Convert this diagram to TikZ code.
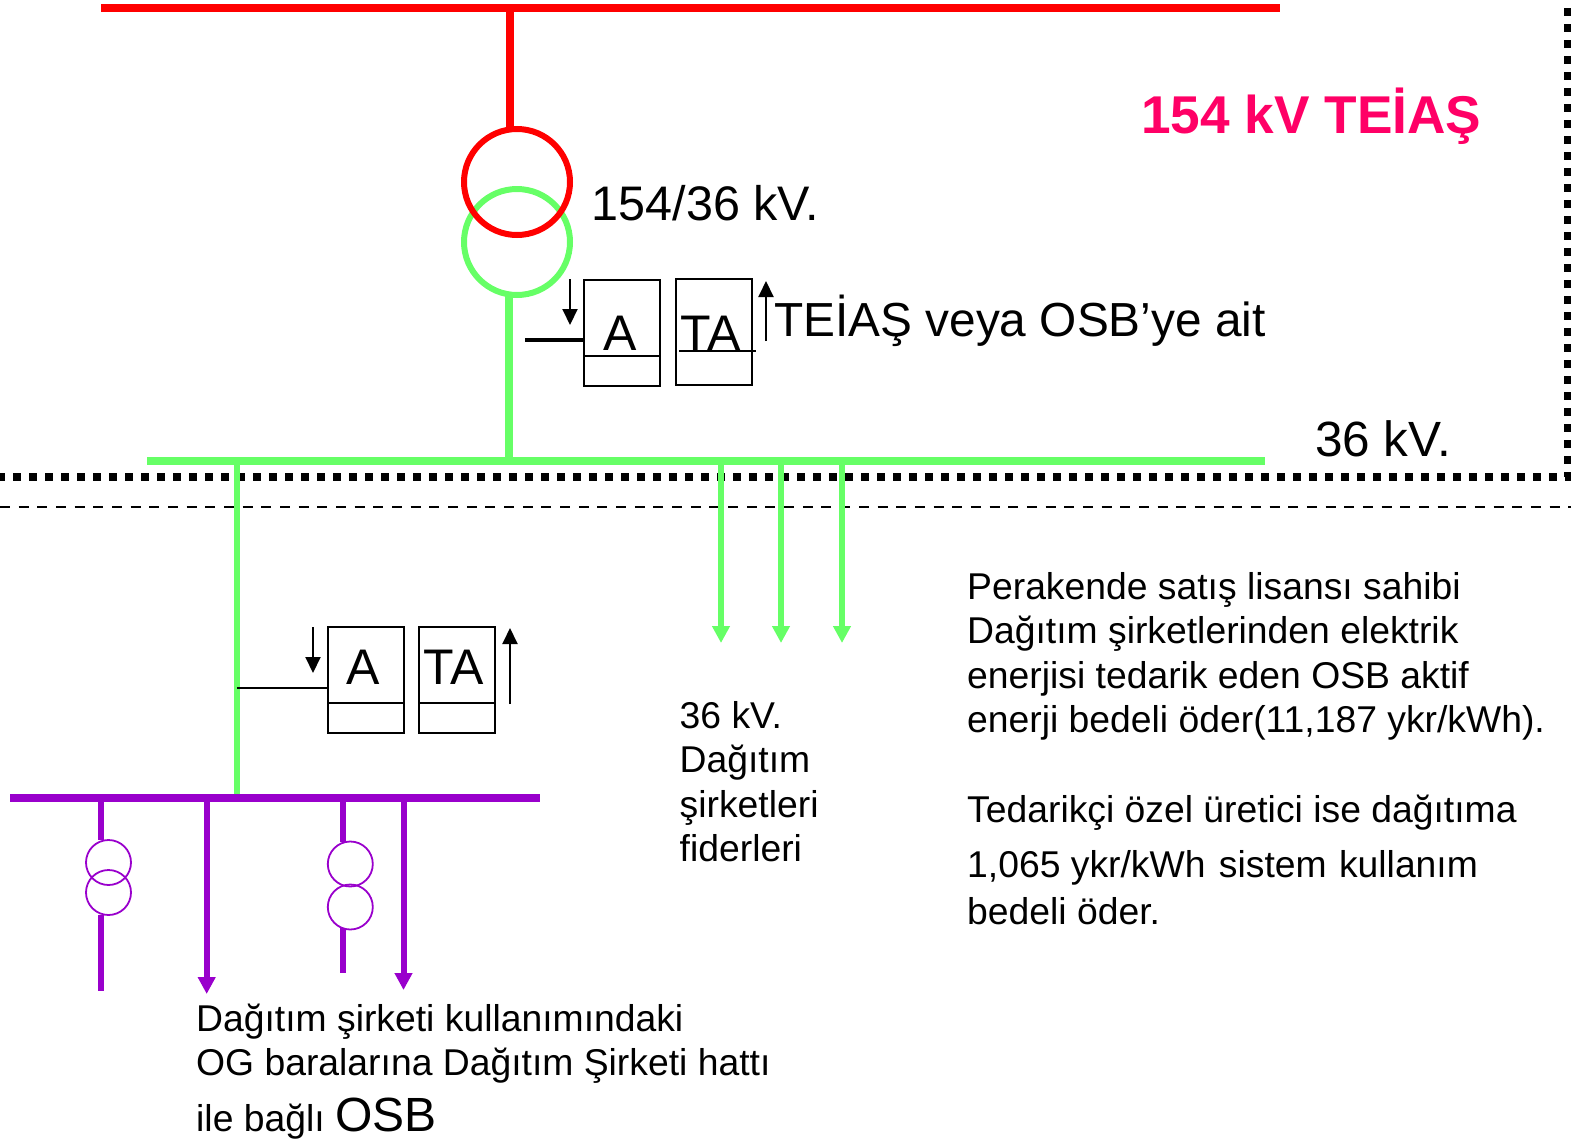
\documentclass[tikz,border=0pt]{standalone}
\usepackage{fontspec}
\setmainfont{Liberation Sans}
\usetikzlibrary{arrows.meta}
\definecolor{busred}{RGB}{255,0,0}
\definecolor{busgreen}{RGB}{102,255,102}
\definecolor{buspurple}{RGB}{153,0,204}
\definecolor{titlepink}{RGB}{255,0,102}
\tikzset{
  x=1pt,y=-1pt,
  bigtext/.style={inner sep=0pt,anchor=base west,font=\fontsize{48.5}{48.5}\selectfont},
  smalltext/.style={inner sep=0pt,anchor=base west,font=\fontsize{37.3}{44.5}\selectfont,align=left},
  boxtext/.style={inner sep=0pt,anchor=base,font=\fontsize{50}{50}\selectfont},
  meter/.style={draw=black,line width=2pt,inner sep=0pt,minimum width=76pt,minimum height=106pt},
  trafo/.style={circle,draw,inner sep=0pt,minimum size=#1},
  feedarrow/.style={line width=6pt,-{Triangle[length=17pt,width=17pt]}},
  blackarrow/.style={line width=2pt,-{Triangle[length=16pt,width=15pt]}},
  heavydots/.style={line width=7.8pt,dash pattern=on 8pt off 8pt},
}
\begin{document}
\begin{tikzpicture}
\useasboundingbox (0,0) rectangle (1571,1138);
% boundary lines
\coordinate (bl) at (-2.7,476.7); \coordinate (br) at (1571,476.7);
\coordinate (rt) at (1567.7,7.7); \coordinate (rb) at (1567.7,477);
\coordinate (dl) at (0,507); \coordinate (dr) at (1571,507);
\draw[heavydots] (bl) -- (br);
\draw[heavydots] (rt) -- (rb);
\draw[line width=1.6pt,dash pattern=on 10pt off 8.67pt] (dl) -- (dr);
% buses
\coordinate (redL) at (101,8); \coordinate (redR) at (1280,8);
\coordinate (redT) at (510,8); \coordinate (redB) at (510,128);
\coordinate (grnL) at (147,461); \coordinate (grnR) at (1265,461);
\coordinate (grnT) at (509,294); \coordinate (grnB) at (509,461);
\coordinate (f1) at (721,461); \coordinate (f1e) at (721,643);
\coordinate (f2) at (781,461); \coordinate (f2e) at (781,643);
\coordinate (f3) at (842,461); \coordinate (f3e) at (842,643);
\coordinate (lg) at (237,461); \coordinate (lge) at (237,797);
\coordinate (purL) at (10,798); \coordinate (purR) at (540,798);
\draw[busgreen,line width=8pt] (grnT) -- (grnB);
\draw[busgreen,feedarrow] (f1) -- (f1e);
\draw[busgreen,feedarrow] (f2) -- (f2e);
\draw[busgreen,feedarrow] (f3) -- (f3e);
\draw[busgreen,line width=6pt] (lg) -- (lge);
\draw[busgreen,line width=8pt] (grnL) -- (grnR);
\draw[busred,line width=8pt] (redL) -- (redR);
\draw[busred,line width=8pt] (redT) -- (redB);
% main transformer
\node[trafo=106pt,draw=busgreen,line width=6pt] (tg) at (517,242) {};
\node[trafo=106pt,draw=busred,line width=6pt] (tr) at (517,182) {};
% upper metering
\node[meter] (A1) at (622,332.5) {};
\node[meter] (TA1) at (713.5,332) {};
\coordinate (A1dL) at (584,355.5); \coordinate (A1dR) at (660,355.5);
\coordinate (T1uL) at (679,351); \coordinate (T1uR) at (756,351);
\draw[line width=2pt] (A1dL) -- (A1dR);
\node[boxtext] (A1t) at (620,350) {A};
\node[boxtext] (TA1t) at (711,350) {TA};
\draw[line width=2pt] (T1uL) -- (T1uR);
\coordinate (st1) at (525,340); \coordinate (st1e) at (584,340);
\draw[line width=3.5pt] (st1) -- (st1e);
\coordinate (d1) at (570,279); \coordinate (d1e) at (570,325);
\coordinate (u1) at (766,341); \coordinate (u1e) at (766,281);
\draw[blackarrow] (d1) -- (d1e);
\draw[blackarrow] (u1) -- (u1e);
% lower metering
\node[meter] (A2) at (366,680) {};
\node[meter] (TA2) at (457,680) {};
\coordinate (A2dL) at (328,703); \coordinate (A2dR) at (404,703);
\coordinate (T2dL) at (419,703); \coordinate (T2dR) at (495,703);
\draw[line width=2pt] (A2dL) -- (A2dR);
\draw[line width=2pt] (T2dL) -- (T2dR);
\node[boxtext] (A2t) at (363,684) {A};
\node[boxtext] (TA2t) at (454,684) {TA};
\coordinate (st2) at (237,688); \coordinate (st2e) at (328,688);
\draw[line width=2pt] (st2) -- (st2e);
\coordinate (d2) at (313,627); \coordinate (d2e) at (313,673);
\coordinate (u2) at (510,704); \coordinate (u2e) at (510,628);
\draw[blackarrow] (d2) -- (d2e);
\draw[blackarrow] (u2) -- (u2e);
% purple part
\coordinate (p1) at (101,797); \coordinate (p1a) at (101,840);
\coordinate (p1b) at (101,915); \coordinate (p1c) at (101,991);
\coordinate (p2) at (206.7,797); \coordinate (p2e) at (206.7,994);
\coordinate (p3) at (343,797); \coordinate (p3a) at (343,842);
\coordinate (p3b) at (343,928); \coordinate (p3c) at (343,973);
\coordinate (p4) at (403.5,797); \coordinate (p4e) at (403.5,990);
\draw[buspurple,line width=6pt] (p1) -- (p1a);
\draw[buspurple,line width=6pt] (p1b) -- (p1c);
\draw[buspurple,line width=6pt] (p3) -- (p3a);
\draw[buspurple,line width=6pt] (p3b) -- (p3c);
\draw[buspurple,feedarrow] (p2) -- (p2e);
\draw[buspurple,feedarrow] (p4) -- (p4e);
\draw[buspurple,line width=8pt] (purL) -- (purR);
\node[trafo=45pt,draw=buspurple,line width=1.8pt] (s1) at (108.5,862.5) {};
\node[trafo=45pt,draw=buspurple,line width=1.8pt] (s2) at (108.5,892.5) {};
\node[trafo=45pt,draw=buspurple,line width=1.8pt] (s3) at (350.3,864) {};
\node[trafo=45pt,draw=buspurple,line width=1.8pt] (s4) at (350.3,907) {};
% texts
\node[inner sep=0pt,anchor=base west,font=\fontsize{53.2}{53.2}\selectfont\bfseries,text=titlepink] (title) at (1141,133) {154 kV TEİAŞ};
\node[bigtext] (trlabel) at (591.5,220) {154/36 kV.};
\node[bigtext,font=\fontsize{47.8}{47.8}\selectfont] (own) at (774,336) {TEİAŞ veya OSB’ye ait};
\node[bigtext,font=\fontsize{49.5}{49.5}\selectfont] (kv36) at (1315,456.5) {36 kV.};
\node[smalltext,anchor=north west] (fider) at (679.5,701) {36 kV.\\Dağıtım\\şirketleri\\fiderleri};
\node[smalltext,anchor=north west] (per) at (967,572) {Perakende satış lisansı sahibi\\Dağıtım şirketlerinden elektrik\\enerjisi tedarik eden OSB aktif\\enerji bedeli öder(11,187 ykr/kWh).};
\node[smalltext,anchor=north west] (ted) at (967,795) {Tedarikçi özel üretici ise dağıtıma\\[10pt]1,065 ykr/kWh\hspace{3pt} sistem\hspace{2pt} kullanım\\[3pt]bedeli öder.};
\node[smalltext,anchor=north west] (osb) at (196,1003.5) {Dağıtım şirketi kullanımındaki\\OG baralarına Dağıtım Şirketi hattı\\[11pt]ile bağlı {\fontsize{48}{48}\selectfont OSB}};
\end{tikzpicture}
\end{document}
